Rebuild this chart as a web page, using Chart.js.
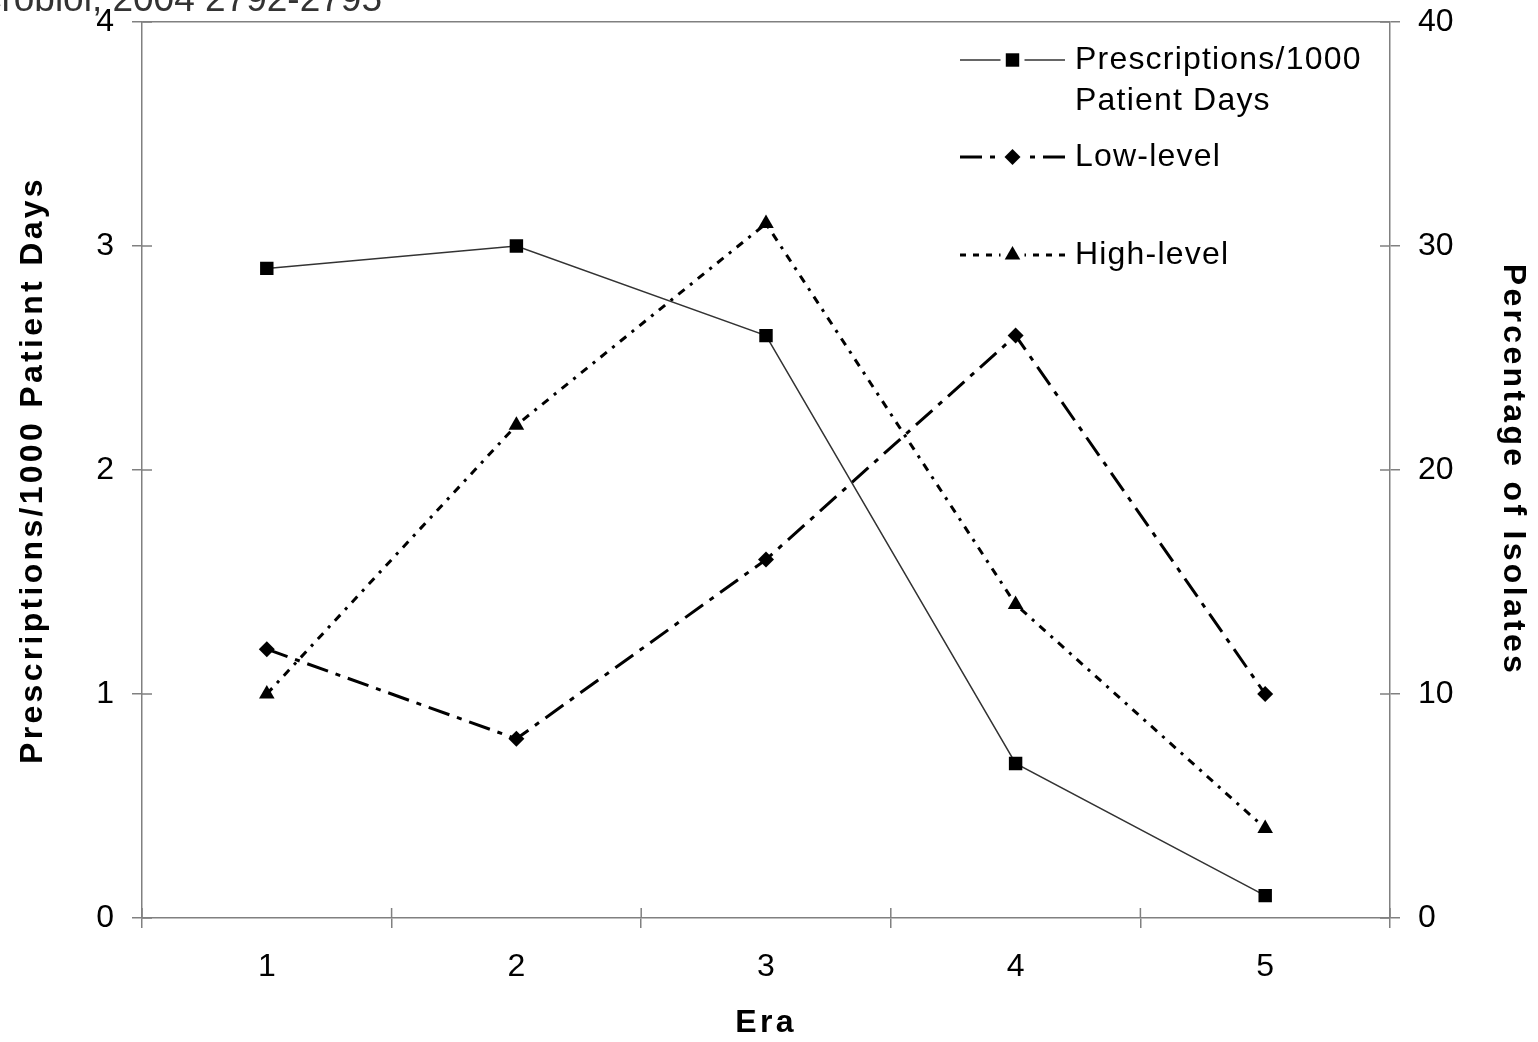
<!DOCTYPE html>
<html>
<head>
<meta charset="utf-8">
<script src="https://cdn.jsdelivr.net/npm/chart.js@4/dist/chart.umd.min.js"></script>
<style>
  html, body { margin: 0; padding: 0; background: #ffffff; }
  #wrap { width: 1538px; height: 1042px; position: relative; }
</style>
</head>
<body>
<div id="wrap"><canvas id="c" width="1538" height="1042"></canvas></div>
<script>
// ---- data ----
const eras = ['1', '2', '3', '4', '5'];
const prescriptions = [2.9, 3.0, 2.6, 0.69, 0.1];   // per 1000 patient days (left axis)
const lowLevel = [12, 8, 16, 26, 10];               // % of isolates (right axis)
const highLevel = [10, 22, 31, 14, 4];              // % of isolates (right axis)
const leftTicks = [0, 1, 2, 3, 4];
const rightTicks = [0, 10, 20, 30, 40];
const seriesNames = ['Prescriptions/1000\nPatient Days', 'Low-level', 'High-level'];
const leftTitle = 'Prescriptions/1000 Patient Days';
const rightTitle = 'Percentage of Isolates';
const xTitle = 'Era';
const sourceText = 'Microbiol, 2004 2792-2795';

const FONT = '"Liberation Sans", Arial, Helvetica, sans-serif';
const AXIS = '#808080';
const INK = '#000000';

const dashLow = [22, 8, 5, 8];
const dashHigh = [8, 7, 3, 7];

function drawMarker(ctx, style, x, y, r) {
  ctx.save();
  ctx.fillStyle = INK;
  ctx.beginPath();
  if (style === 'rect') {
    const s = r * Math.SQRT1_2;
    ctx.rect(x - s, y - s, 2 * s, 2 * s);
  } else if (style === 'rectRot') {
    ctx.moveTo(x - r, y); ctx.lineTo(x, y - r); ctx.lineTo(x + r, y); ctx.lineTo(x, y + r); ctx.closePath();
  } else {
    ctx.moveTo(x, y - r);
    ctx.lineTo(x + r * Math.sin(2 * Math.PI / 3), y - r * Math.cos(2 * Math.PI / 3));
    ctx.lineTo(x + r * Math.sin(4 * Math.PI / 3), y - r * Math.cos(4 * Math.PI / 3));
    ctx.closePath();
  }
  ctx.fill();
  ctx.restore();
}

// axis titles (drawn with the grid layer, before datasets) get wider tracking
const trackingPlugin = {
  id: 'tracking',
  beforeDraw(chart) { chart.ctx.letterSpacing = '3.3px'; },
  beforeDatasetsDraw(chart) { chart.ctx.letterSpacing = '0px'; }
};

const extrasPlugin = {
  id: 'extras',
  afterDraw(chart) {
    const ctx = chart.ctx;
    const ca = chart.chartArea;
    const ys = chart.scales.y, y1 = chart.scales.y1, xs = chart.scales.x;
    ctx.letterSpacing = '0px';
    // inner halves of tick marks (ticks cross the axis lines)
    ctx.save();
    ctx.strokeStyle = AXIS;
    ctx.lineWidth = 1.5;
    ctx.beginPath();
    ys.ticks.forEach((t, i) => { const p = ys.getPixelForTick(i); ctx.moveTo(ca.left, p); ctx.lineTo(ca.left + 10, p); });
    y1.ticks.forEach((t, i) => { const p = y1.getPixelForTick(i); ctx.moveTo(ca.right - 10, p); ctx.lineTo(ca.right, p); });
    const n = xs.ticks.length;
    for (let i = 0; i <= n; i++) {
      let p;
      if (i === 0) p = ca.left; else if (i === n) p = ca.right;
      else p = (xs.getPixelForTick(i - 1) + xs.getPixelForTick(i)) / 2;
      ctx.moveTo(p, ca.bottom - 10); ctx.lineTo(p, ca.bottom);
    }
    ctx.stroke();
    ctx.restore();

    // legend
    const lx0 = ca.right - 430, lx1 = ca.right - 325, lm = (lx0 + lx1) / 2, tx = ca.right - 315;
    const rows = [ca.top + 38, ca.top + 135, ca.top + 233];
    const specs = [
      { dash: [], w: 1.5, color: '#333', marker: 'rect', r: 9.5 },
      { dash: dashLow, w: 3, color: INK, marker: 'rectRot', r: 8 },
      { dash: [6, 7], w: 3, color: INK, marker: 'triangle', r: 9 }
    ];
    specs.forEach((s, i) => {
      const y = rows[i];
      ctx.save();
      ctx.strokeStyle = s.color;
      ctx.lineWidth = s.w;
      ctx.setLineDash(s.dash);
      ctx.beginPath();
      ctx.moveTo(lx0, y); ctx.lineTo(lm - 12, y);
      ctx.stroke();
      ctx.beginPath();
      ctx.moveTo(lx1, y); ctx.lineTo(lm + 12, y);
      ctx.stroke();
      ctx.restore();
      drawMarker(ctx, s.marker, lm, y, s.r);
      ctx.save();
      ctx.fillStyle = INK;
      ctx.font = '32px ' + FONT;
      ctx.letterSpacing = '1.2px';
      ctx.textAlign = 'left';
      ctx.textBaseline = 'middle';
      seriesNames[i].split('\n').forEach((line, k) => ctx.fillText(line, tx, y + k * 41));
      ctx.restore();
    });

    // clipped source line at top-left
    ctx.save();
    ctx.fillStyle = '#333';
    ctx.font = '37px ' + FONT;
    ctx.textAlign = 'right';
    ctx.textBaseline = 'alphabetic';
    ctx.fillText(sourceText, 382, 11);
    ctx.restore();
  }
};

const titleFont = { family: FONT, size: 32, weight: 'bold' };
const tickFont = { family: FONT, size: 32 };

function noOverflow(s) { s.paddingTop = 0; s.paddingBottom = 0; s.paddingLeft = 0; s.paddingRight = 0; }

new Chart(document.getElementById('c'), {
  type: 'line',
  data: {
    labels: eras,
    datasets: [
      {
        label: 'Prescriptions/1000 Patient Days',
        data: prescriptions,
        yAxisID: 'y',
        borderColor: '#333',
        borderWidth: 1.5,
        backgroundColor: INK,
        pointStyle: 'rect',
        pointRadius: 9.5,
        pointBorderWidth: 0,
        pointBackgroundColor: INK,
        tension: 0
      },
      {
        label: 'Low-level',
        data: lowLevel,
        yAxisID: 'y1',
        borderColor: INK,
        borderWidth: 3,
        borderDash: dashLow,
        pointStyle: 'rectRot',
        pointRadius: 8,
        pointBorderWidth: 0,
        pointBackgroundColor: INK,
        tension: 0
      },
      {
        label: 'High-level',
        data: highLevel,
        yAxisID: 'y1',
        borderColor: INK,
        borderWidth: 3,
        borderDash: dashHigh,
        pointStyle: 'triangle',
        pointRadius: 9,
        pointBorderWidth: 0,
        pointBackgroundColor: INK,
        tension: 0
      }
    ]
  },
  options: {
    responsive: false,
    animation: false,
    devicePixelRatio: 1,
    layout: { padding: { top: 22, left: 0, right: 0, bottom: 0 } },
    plugins: { legend: { display: false }, tooltip: { enabled: false }, title: { display: false } },
    scales: {
      x: {
        type: 'category',
        offset: true,
        grid: { display: true, offset: true, drawOnChartArea: false, drawTicks: true, tickLength: 10, tickColor: AXIS, lineWidth: 1.5 },
        border: { display: true, color: AXIS, width: 1.5 },
        ticks: { color: INK, font: tickFont, padding: 20, maxRotation: 0, z: 1 },
        title: { display: true, text: xTitle, color: INK, font: titleFont, padding: 0 },
        afterFit(s) { s.height = 124; noOverflow(s); }
      },
      y: {
        position: 'left',
        min: 0, max: 4,
        afterBuildTicks(s) { s.ticks = leftTicks.map(v => ({ value: v })); },
        grid: {
          drawOnChartArea: true, drawTicks: true, tickLength: 10, tickColor: AXIS, lineWidth: 1.5,
          color: c => (c.tick && c.tick.value === 4 ? AXIS : 'rgba(0,0,0,0)')
        },
        border: { display: true, color: AXIS, width: 1.5 },
        ticks: { color: INK, font: tickFont, padding: 18, z: 1 },
        title: { display: true, text: leftTitle, color: INK, font: titleFont, padding: 14 },
        afterFit(s) { s.width = 142; noOverflow(s); }
      },
      y1: {
        position: 'right',
        min: 0, max: 40,
        afterBuildTicks(s) { s.ticks = rightTicks.map(v => ({ value: v })); },
        grid: { drawOnChartArea: false, drawTicks: true, tickLength: 10, tickColor: AXIS, lineWidth: 1.5 },
        border: { display: true, color: AXIS, width: 1.5 },
        ticks: { color: INK, font: tickFont, padding: 18, z: 1 },
        title: { display: true, text: rightTitle, color: INK, font: titleFont, padding: 6 },
        afterFit(s) { s.width = 148; noOverflow(s); }
      }
    }
  },
  plugins: [trackingPlugin, extrasPlugin]
});
</script>
</body>
</html>
